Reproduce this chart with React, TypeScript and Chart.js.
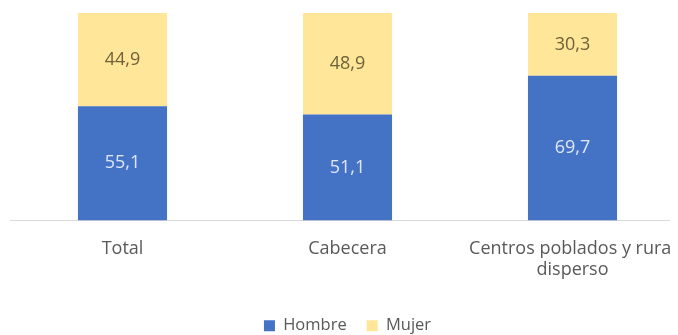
import React, { useEffect, useRef } from "react";
import { Chart, registerables } from "chart.js";

Chart.register(...registerables);

const categories: (string | string[])[] = ["Total", "Cabecera", ["Centros poblados y rural", "disperso"]];
const hombre = [55.1, 51.1, 69.7];
const mujer = [44.9, 48.9, 30.3];
const seriesNames = ["Hombre", "Mujer"];

const FONT = "'Open Sans', sans-serif";

const labelPlugin = {
  id: "barLabels",
  afterDatasetsDraw(chart: any) {
    const ctx = chart.ctx;
    ctx.save();
    ctx.font = `18px ${FONT}`;
    ctx.textAlign = "center";
    ctx.textBaseline = "middle";
    chart.data.datasets.forEach((ds: any, di: number) => {
      const meta = chart.getDatasetMeta(di);
      meta.data.forEach((bar: any, i: number) => {
        const v = ds.data[i];
        const txt = v.toFixed(1).replace(".", ",");
        ctx.fillStyle = di === 0 ? "#dfe7f7" : "#6e623a";
        ctx.fillText(txt, bar.x, (bar.y + bar.base) / 2);
      });
    });
    ctx.restore();
  },
};

export default function App() {
  const ref = useRef<HTMLCanvasElement>(null);
  useEffect(() => {
    document.documentElement.style.overflow = "hidden";
    document.body.style.overflow = "hidden";
    if (!ref.current) return;
    const chart = new Chart(ref.current, {
      type: "bar",
      data: {
        labels: categories,
        datasets: [
          { label: seriesNames[0], data: hombre, backgroundColor: "#4472C4" },
          { label: seriesNames[1], data: mujer, backgroundColor: "#FFE699" },
        ],
      },
      options: {
        responsive: false,
        animation: false,
        layout: { padding: { left: 2, top: 5, right: 0, bottom: 1 } },
        datasets: { bar: { categoryPercentage: 1, barPercentage: 0.396 } },
        scales: {
          x: {
            stacked: true,
            grid: { display: false, drawTicks: false },
            border: { display: true, color: "#d9d9d9", width: 1 },
            ticks: {
              color: "#595959",
              font: { family: FONT, size: 18, lineHeight: 1.17 },
              padding: 18,
              maxRotation: 0,
              autoSkip: false,
            },
            afterFit: (s: any) => {
              s.height = 77;
              s.paddingLeft = 0;
              s.paddingRight = 0;
            },
          },
          y: { stacked: true, display: false, min: 0, max: 100 },
        },
        plugins: {
          tooltip: { enabled: false },
          legend: {
            position: "bottom",
            labels: {
              boxWidth: 11,
              boxHeight: 11,
              padding: 20,
              color: "#595959",
              font: { family: FONT, size: 16.5 },
            },
          },
        },
      },
      plugins: [labelPlugin],
    });
    return () => chart.destroy();
  }, []);
  return (
    <div style={{ width: 700, height: 327, overflow: "hidden" }}>
      <canvas ref={ref} width={677} height={337} style={{ display: "block" }} />
    </div>
  );
}
